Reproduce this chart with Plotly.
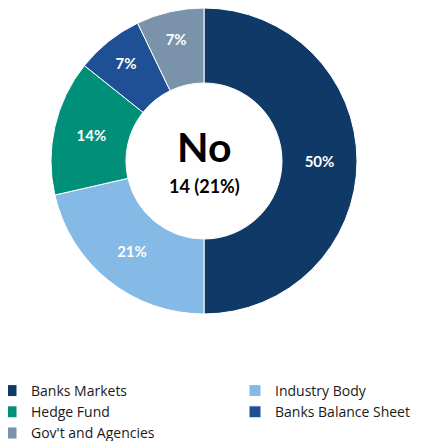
import plotly.graph_objects as go

# Respondents answering "No", by firm type
labels = ["Banks Markets", "Industry Body", "Hedge Fund", "Banks Balance Sheet", "Gov't and Agencies"]
counts = [7, 3, 2, 1, 1]
colors = ["#0F3A68", "#85B9E6", "#009079", "#1F5096", "#7A93AB"]

center_title = "No"
center_sub = "14 (21%)"

# the page body adds an 8px offset, so figure coords = screen coords - 8
W, H = 490, 441
B = 80                      # bottom margin, legend lives there
PH = H - B                  # plot-area height
cx, cy, R = 196, 153, 153   # donut centre / radius in figure px

fig = go.Figure(go.Pie(
    labels=labels,
    values=counts,
    hole=0.51,
    sort=False,
    direction="clockwise",
    rotation=0,
    domain=dict(x=[(cx - R) / W, (cx + R) / W], y=[1 - (cy + R) / PH, 1 - (cy - R) / PH]),
    marker=dict(colors=colors, line=dict(color="white", width=1)),
    texttemplate="%{percent:.0%}",
    textposition="inside",
    insidetextorientation="horizontal",
    textfont=dict(color="white", size=15, family="Lato", weight="bold"),
))

fig.add_annotation(text=center_title, x=cx / W, y=1 - 138 / PH, xref="paper", yref="paper",
                   xanchor="center", yanchor="middle", showarrow=False,
                   font=dict(size=41, family="Lato", color="black", weight="bold"))
fig.add_annotation(text=center_sub, x=cx / W, y=1 - 178 / PH, xref="paper", yref="paper",
                   xanchor="center", yanchor="middle", showarrow=False,
                   font=dict(size=18, family="Lato", color="black", weight="bold"))

fig.update_layout(
    width=W, height=H,
    margin=dict(l=0, r=0, t=0, b=B, autoexpand=False),
    paper_bgcolor="white",
    plot_bgcolor="white",
    font=dict(family="Open Sans", size=14, color="#1a1a1a"),
    uniformtext=dict(minsize=15, mode="show"),
    legend=dict(
        orientation="h",
        x=-17 / W, xanchor="left",
        y=-(367 - PH) / PH, yanchor="top",
        entrywidth=199, entrywidthmode="pixels",
        traceorder="normal",
        font=dict(size=14, family="Open Sans"),
    ),
)

fig.write_html("out.html")
